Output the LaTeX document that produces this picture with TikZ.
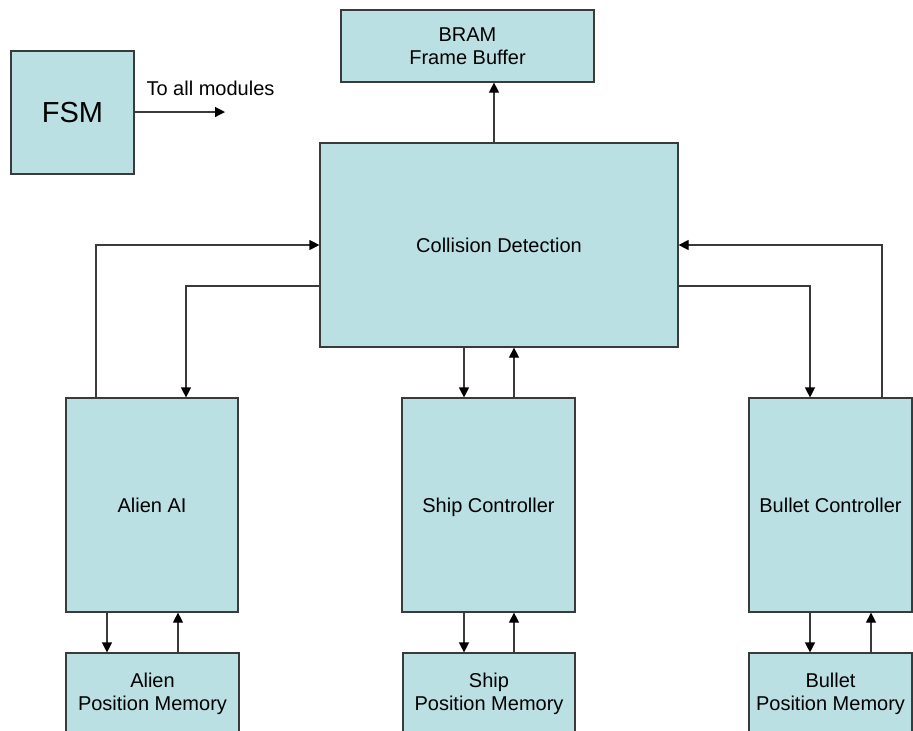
\documentclass[tikz,border=0pt]{standalone}
\usepackage{fontspec}
\setmainfont{Liberation Sans}
\usetikzlibrary{arrows.meta}
\definecolor{boxfill}{HTML}{BBE0E3}
\definecolor{edge}{HTML}{3A3A3A}
\begin{document}
\begin{tikzpicture}[x=0.5pt,y=-0.5pt,
  box/.style={draw=edge,line width=0.6pt,fill=boxfill,inner sep=0pt,align=center,
    font=\fontsize{10}{11.5}\selectfont},
  oneline/.style={text height=7.2pt,text depth=0pt},
  arr/.style={draw=edge,line width=0.6pt,-{Triangle[length=5pt,width=5pt,color=black]}}]
\useasboundingbox (0,0) rectangle (913,730);
\begin{scope}
\clip (0,0) rectangle (913,730);
% boxes
\node[box,minimum width=61.5pt,minimum height=61.5pt,font=\fontsize{14.5}{16}\selectfont] (fsm) at (72.5,112.5) {FSM};
\node[box,minimum width=126.5pt,minimum height=36pt] (bram) at (467.5,46) {BRAM\\Frame Buffer};
\node[box,oneline,minimum width=179pt,minimum height=102pt] (coll) at (499,245) {Collision Detection};
\node[box,oneline,minimum width=86pt,minimum height=107pt] (alien) at (152,505) {Alien AI};
\node[box,oneline,minimum width=86.5pt,minimum height=107pt] (ship) at (488.5,505) {Ship Controller};
\node[box,oneline,minimum width=81.5pt,minimum height=107pt] (bullet) at (830.5,505) {Bullet Controller};
\node[box,minimum width=86.5pt,minimum height=40.5pt] (amem) at (152.5,693.5) {Alien\\Position Memory};
\node[box,minimum width=86pt,minimum height=40.5pt] (smem) at (489,693.5) {Ship\\Position Memory};
\node[box,minimum width=81.5pt,minimum height=40.5pt] (bmem) at (830.5,693.5) {Bullet\\Position Memory};
\end{scope}
% helper coordinates
\coordinate (fsmout) at (225,112);
\node[font=\fontsize{10}{12}\selectfont,inner sep=0pt] (tolbl) at (210.5,88) {To all modules};
\coordinate (xb) at (494,0);
\coordinate (xa1) at (96,0);
\coordinate (xa2) at (186,0);
\coordinate (xs1) at (464,0);
\coordinate (xs2) at (514,0);
\coordinate (xr1) at (882,0);
\coordinate (xr2) at (810,0);
\coordinate (y2) at (0,286);
\coordinate (xam1) at (107,0);
\coordinate (xam2) at (178,0);
\coordinate (xbm2) at (871,0);
% connectors
\draw[arr] (fsm.east |- fsmout) -- (fsmout);
\draw[arr] (coll.north -| xb) -- (bram.south -| xb);
\draw[arr] (alien.north -| xa1) |- (coll.west);
\draw[arr] (coll.west |- y2) -| (alien.north -| xa2);
\draw[arr] (bullet.north -| xr1) |- (coll.east);
\draw[arr] (coll.east |- y2) -| (bullet.north -| xr2);
\draw[arr] (coll.south -| xs1) -- (ship.north -| xs1);
\draw[arr] (ship.north -| xs2) -- (coll.south -| xs2);
\draw[arr] (alien.south -| xam1) -- (amem.north -| xam1);
\draw[arr] (amem.north -| xam2) -- (alien.south -| xam2);
\draw[arr] (ship.south -| xs1) -- (smem.north -| xs1);
\draw[arr] (smem.north -| xs2) -- (ship.south -| xs2);
\draw[arr] (bullet.south -| xr2) -- (bmem.north -| xr2);
\draw[arr] (bmem.north -| xbm2) -- (bullet.south -| xbm2);
\end{tikzpicture}
\end{document}
